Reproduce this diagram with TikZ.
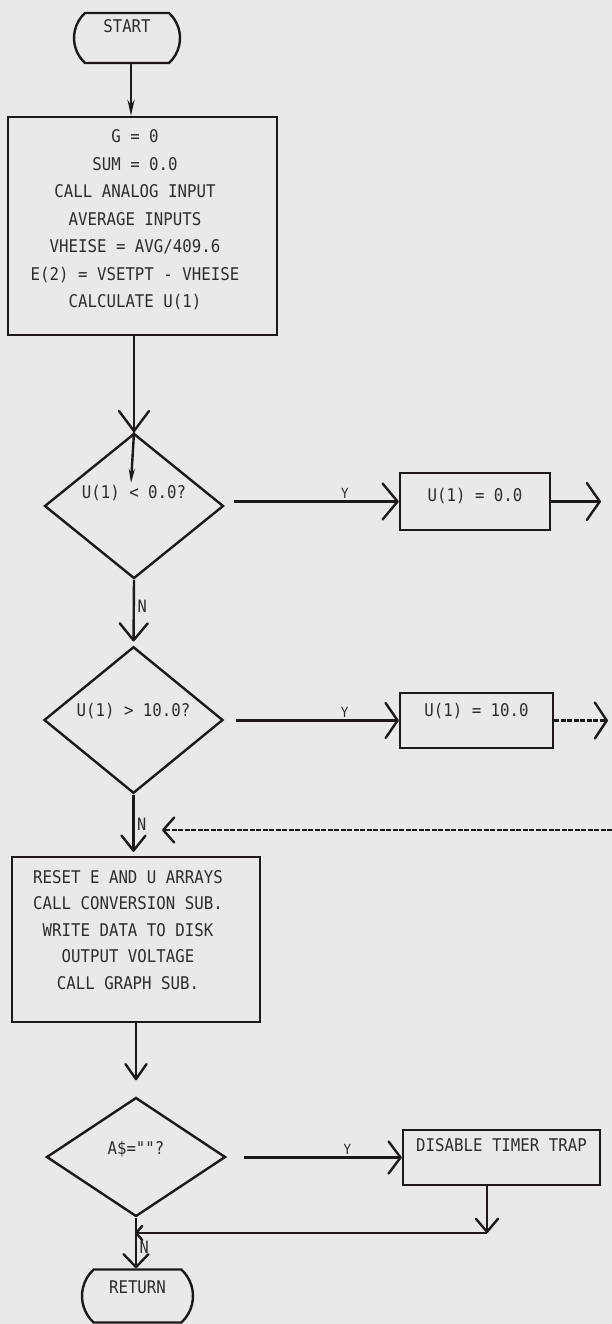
\documentclass[tikz,border=0pt]{standalone}
\usepackage{fontspec}
\usetikzlibrary{arrows.meta,shapes.geometric,shapes.misc}
\newfontfamily\plotfont[FakeStretch=0.9,Ligatures=TeXOff]{DejaVu Sans Mono}
\definecolor{paper}{RGB}{234,233,231}
\definecolor{ink}{RGB}{30,25,24}
\definecolor{inktext}{RGB}{48,44,42}
\begin{document}
\begin{tikzpicture}[x=1pt, y=-1pt, line width=2.4pt, color=ink,
  txt/.style={font=\fontsize{17.5pt}{27.5pt}\plotfont, text=inktext},
  terminal/.style={txt, draw, rounded rectangle, rounded rectangle arc length=95,
    minimum width=106pt, minimum height=50pt, inner sep=0pt, text height=12.8pt, text depth=24pt},
  decision/.style={txt, draw, diamond, minimum width=179pt, minimum height=119pt,
    inner sep=0pt, text height=12.8pt, text depth=20pt},
  procbox/.style={txt, draw, rectangle, inner sep=0pt, text height=12.8pt},
  lab/.style={font=\fontsize{14pt}{14pt}\plotfont, text=inktext, inner sep=1.5pt},
  nlab/.style={font=\fontsize{17pt}{17pt}\plotfont, text=inktext, inner sep=2.5pt},
  barb/.style 2 args={-{Straight Barb[length=#1, width=#2, round]}},
  fine/.style={dash pattern=on 5pt off 1.5pt}]
\useasboundingbox[fill=paper] (0,0) rectangle (612,1324);

% Shapes
\node[terminal] (start) at (127,38) {START};
\node[procbox, minimum width=269pt, minimum height=218pt] (init) at (142.5,226) {};
\node[txt, align=center] (inittxt) at (135,220) {G = 0\\SUM = 0.0\\CALL ANALOG INPUT\\AVERAGE INPUTS\\VHEISE = AVG/409.6\\E(2) = VSETPT - VHEISE\\CALCULATE U(1)};
\node[decision, text depth=28pt] (d1) at (134,506) {U(1) < 0.0?};
\node[procbox, minimum width=150pt, minimum height=57pt, text depth=13pt] (clamp0) at (475,501.5) {U(1) = 0.0};
\node[decision] (d2) at (133.5,720) {U(1) > 10.0?};
\node[procbox, minimum width=153pt, minimum height=55pt, text depth=21pt] (clamp10) at (476.5,720.5) {U(1) = 10.0};
\node[procbox, minimum width=248pt, minimum height=165pt] (reset) at (136,939.5) {};
\node[txt, align=center, font=\fontsize{17.5pt}{26.5pt}\plotfont] (resettxt) at (128,930) {RESET E AND U ARRAYS\\CALL CONVERSION SUB.\\WRITE DATA TO DISK\\OUTPUT VOLTAGE\\CALL GRAPH SUB.};
\node[decision, text depth=18pt] (d3) at (136,1157) {A\$=""?};
\node[procbox, minimum width=197pt, minimum height=55pt, text depth=25pt] (disable) at (501.5,1157.5) {DISABLE TIMER TRAP};
\node[terminal, minimum width=111pt, minimum height=53pt, text depth=18pt] (return) at (137.5,1296) {RETURN};

% Free ends
\coordinate (d1in) at (131,483);
\coordinate (out0) at (601,501.5);
\coordinate (out10) at (608,720.5);
\coordinate (back) at (612,830);
\coordinate (join) at (134,830);
\coordinate (corner) at (487,1233);
\coordinate (merge) at (135,1233);

% Main column
\draw[-{Stealth[length=16pt, width=7pt]}] ([xshift=4pt]start.south) -- ([xshift=4pt]start.south |- init.north);
\draw[barb={20pt}{30pt}] (d1.north |- init.south) -- (d1.north);
\draw[-{Stealth[length=14pt, width=6pt]}] (d1.north) -- (d1in);
\draw[barb={17pt}{28pt}, shorten >=4pt] (d1.south) -- (d2.north) node[nlab, pos=0.4, right] {N};
\draw[barb={15pt}{24pt}, shorten >=4pt] (d2.south) -- (d2.south |- reset.north) node[nlab, pos=0.49, right] {N};
\draw[barb={15pt}{21pt}, shorten >=16pt] (d3.north |- reset.south) -- (d3.north);
\draw[barb={13pt}{25pt}] (d3.south) -- (d3.south |- return.north) node[nlab, pos=0.58, right] {N};

% Y branches
\draw[barb={15pt}{36pt}, shorten <=9pt] (clamp0.west -| d1.east) -- (clamp0.west) node[lab, pos=0.69, above] {Y};
\draw[barb={13pt}{37pt}] (clamp0.east) -- (out0);
\draw[barb={12pt}{35pt}, shorten <=12pt] (clamp10.west -| d2.east) -- (clamp10.west) node[lab, pos=0.69, above] {Y};
\draw[fine, barb={12pt}{36pt}] (clamp10.east) -- (out10);
\draw[fine, barb={11pt}{25pt}, shorten >=28pt] (back) -- (join);
\draw[barb={12pt}{32pt}, shorten <=17pt] (disable.west -| d3.east) -- (disable.west) node[lab, pos=0.69, above] {Y};
\draw[barb={13pt}{22pt}] (disable.south -| corner) -- (corner);
\draw[barb={6pt}{14pt}] (corner) -- (merge);
\end{tikzpicture}
\end{document}
